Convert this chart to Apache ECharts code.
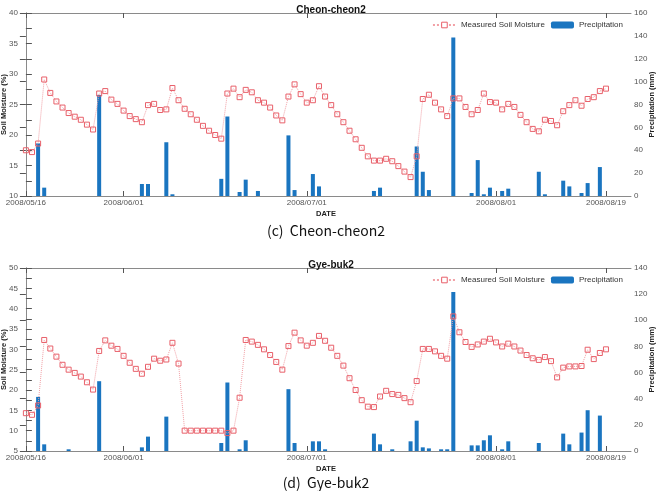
<!DOCTYPE html>
<html>
<head>
<meta charset="utf-8">
<script src="https://cdn.jsdelivr.net/npm/echarts@6/dist/echarts.min.js"></script>
<style>
  html, body { margin: 0; padding: 0; background: #fff; }
  #chart { width: 658px; height: 491px; }
</style>
</head>
<body>
<div id="chart"></div>
<script>
// day 0 = 2008/05/16, one reading per day up to 2008/08/19 (day 95)
const tickDays = [0, 16, 46, 77, 95];
const tickLabels = ['2008/05/16', '2008/06/01', '2008/07/01', '2008/08/01', '2008/08/19'];

const cheonSoil = [
  17.5, 17.2, 18.6, 29.1, 26.9, 25.5, 24.5, 23.6, 23.0, 22.5, 21.7, 20.9,
  26.8, 27.2, 25.8, 25.1, 24.0, 23.1, 22.6, 22.1, 24.9, 25.1, 24.1, 24.2,
  27.7, 25.7, 24.3, 23.4, 22.5, 21.5, 20.7, 20.0, 19.4, 26.8, 27.6, 26.2,
  27.4, 27.0, 25.7, 25.3, 24.5, 23.2, 22.4, 26.3, 28.3, 26.7, 25.3, 25.7,
  28.0, 26.3, 24.9, 23.4, 22.1, 20.7, 19.3, 17.9, 16.5, 15.8, 15.8, 16.1,
  15.7, 14.9, 14.0, 13.1, 16.5, 25.9, 26.6, 25.3, 24.2, 23.1, 26.0, 26.0,
  24.6, 23.4, 24.1, 26.8, 25.4, 25.3, 24.2, 25.1, 24.6, 23.3, 22.1, 21.0,
  20.6, 22.5, 22.3, 21.6, 23.9, 24.9, 25.7, 24.8, 25.9, 26.2, 27.2, 27.6
];
const cheonRainDay = [2, 3, 12, 19, 20, 23, 24, 32, 33, 35, 36, 38, 43, 44, 47, 48,
  57, 58, 64, 65, 66, 70, 73, 74, 75, 76, 78, 79, 84, 85, 88, 89, 91, 92, 94];
const cheonRainMm = [46, 7.3, 88.4, 10.5, 10.5, 47, 1.5, 15, 69.5, 3.5, 14.3, 4.4, 53, 5.2, 19.2, 8.4,
  4.4, 7.3, 43.3, 21.2, 5.2, 138.5, 2.6, 31.4, 1.5, 7.3, 4.4, 6.4, 21.2, 1.5, 13.4, 8.4, 2.6, 11.3, 25.3];

const gyeSoil = [
  14.3, 13.9, 16.2, 32.3, 30.2, 28.2, 26.2, 25.0, 24.2, 23.3, 21.9, 20.1,
  29.6, 32.2, 30.9, 30.1, 28.4, 26.7, 25.2, 24.0, 25.7, 27.7, 27.2, 27.5,
  31.6, 26.5, 10.0, 10.0, 10.0, 10.0, 10.0, 10.0, 10.0, 9.4, 10.0, 18.1,
  32.3, 31.9, 31.1, 30.0, 28.6, 26.9, 25.0, 30.8, 34.1, 32.2, 30.9, 31.6,
  33.3, 32.1, 30.4, 28.4, 26.0, 22.9, 20.0, 17.5, 15.9, 15.8, 18.4, 19.8,
  19.0, 18.8, 18.0, 17.0, 22.2, 30.1, 30.1, 29.5, 28.4, 27.7, 38.1, 34.2,
  31.8, 30.6, 31.2, 31.9, 32.6, 31.7, 30.7, 31.4, 30.7, 29.7, 28.6, 27.8,
  27.4, 28.1, 27.1, 23.1, 25.5, 25.8, 25.8, 25.9, 29.9, 27.6, 29.1, 30.0
];
const gyeRainDay = [2, 3, 7, 12, 19, 20, 23, 32, 33, 35, 36, 43, 44, 47, 48, 49,
  57, 58, 60, 63, 64, 65, 66, 68, 69, 70, 73, 74, 75, 76, 78, 79, 84, 88, 89, 91, 92, 94];
const gyeRainMm = [41.4, 5.1, 1.3, 53.4, 2.8, 11, 26.3, 6.1, 52.4, 1.3, 8.2, 47.3, 6.1, 7.4, 7.4, 1.3,
  13.3, 5.1, 1.3, 7.4, 23.2, 2.8, 2.0, 1.3, 1.3, 121.6, 4.3, 4.3, 8.2, 12.0, 1.3, 7.4, 6.1, 13.3, 5.1, 14.1, 31.2, 27.1];

const panelTitles = ['Cheon-cheon2', 'Gye-buk2'];
const captions = ['(c)  Cheon-cheon2', '(d)  Gye-buk2'];

const chart = echarts.init(document.getElementById('chart'), null, { renderer: 'canvas' });

const font = 'Liberation Sans';
const axisGray = '#8a8a8a';
const tickColor = '#555';
const labelStyle = { fontSize: 8, color: '#555', fontFamily: font };
const nameStyle = { fontSize: 7.5, fontWeight: 'bold', color: '#222', fontFamily: font };
const grids = [
  { left: 21, width: 610, top: 13, height: 183, containLabel: false, outerBoundsMode: 'none' },
  { left: 21, width: 610, top: 268, height: 183, containLabel: false, outerBoundsMode: 'none' }
];
const soilRange = [[10, 40], [5, 50]];
const rainRange = [[0, 160], [0, 140]];

const xAxes = [];
const yAxes = [];
const series = [];
const legends = [];

const pairs = (days, vals) => days.map((d, i) => [d, vals[i]]);
const soilSets = [cheonSoil, gyeSoil];
const rainSets = [pairs(cheonRainDay, cheonRainMm), pairs(gyeRainDay, gyeRainMm)];

grids.forEach((g, gi) => {
  // bottom date axis
  xAxes.push({
    type: 'value', gridIndex: gi, min: -0.8, max: 99.1,
    name: 'DATE', nameLocation: 'middle', nameGap: 14, nameTextStyle: nameStyle,
    nameMoveOverlap: false,
    axisLine: { show: true, lineStyle: { color: axisGray, width: 1 } },
    axisTick: { show: true, inside: true, length: 5, customValues: tickDays, lineStyle: { color: tickColor } },
    axisLabel: {
      ...labelStyle, margin: 3, customValues: tickDays,
      formatter: v => tickLabels[tickDays.indexOf(v)] || ''
    },
    splitLine: { show: false }
  });
  // top border with ticks
  xAxes.push({
    type: 'value', gridIndex: gi, position: 'top', min: -0.8, max: 99.1,
    axisLine: { show: true, lineStyle: { color: axisGray, width: 1 } },
    axisTick: { show: true, inside: true, length: 5, customValues: tickDays, lineStyle: { color: tickColor } },
    axisLabel: { show: false },
    splitLine: { show: false }
  });
  yAxes.push({
    type: 'value', gridIndex: gi, position: 'left',
    min: soilRange[gi][0], max: soilRange[gi][1], interval: 5,
    name: 'Soil Moisture (%)', nameLocation: 'middle', nameRotate: 90, nameGap: 13,
    nameMoveOverlap: false,
    nameTextStyle: nameStyle,
    axisLine: { show: true, lineStyle: { color: axisGray, width: 1 } },
    axisTick: { show: true, inside: true, length: 6, lineStyle: { color: tickColor } },
    minorTick: { show: true, splitNumber: 2, length: 6, lineStyle: { color: tickColor } },
    axisLabel: { ...labelStyle, margin: 3 },
    splitLine: { show: false }
  });
  yAxes.push({
    type: 'value', gridIndex: gi, position: 'right',
    min: rainRange[gi][0], max: rainRange[gi][1], interval: 20,
    name: 'Precipitation (mm)', nameLocation: 'middle', nameRotate: 90, nameGap: 17,
    nameMoveOverlap: false,
    nameTextStyle: nameStyle,
    axisLine: { show: true, lineStyle: { color: axisGray, width: 1 } },
    axisTick: { show: true, inside: true, length: 6, lineStyle: { color: tickColor } },
    minorTick: { show: false },
    axisLabel: { ...labelStyle, margin: 3 },
    splitLine: { show: false }
  });

  series.push({
    name: 'Precipitation', type: 'bar',
    xAxisIndex: gi * 2, yAxisIndex: gi * 2 + 1,
    data: rainSets[gi], barWidth: 4,
    itemStyle: { color: '#1a75c0' },
    animation: false
  });
  series.push({
    name: 'Measured Soil Moisture', type: 'line',
    xAxisIndex: gi * 2, yAxisIndex: gi * 2,
    data: soilSets[gi].map((v, d) => [d, v]),
    symbol: 'rect', symbolSize: 5,
    itemStyle: { color: 'rgba(255,255,255,0)', borderColor: '#e8606a', borderWidth: 1 },
    lineStyle: { color: '#f2a0a6', width: 1, type: 'dotted' },
    animation: false
  });

  legends.push({
    top: g.top + 3, right: 30,
    itemWidth: 23, itemHeight: 7, itemGap: 6,
    textStyle: { fontSize: 8, color: '#333', fontFamily: font },
    data: [
      { name: 'Measured Soil Moisture', itemStyle: { color: '#fff', borderColor: '#e8606a', borderWidth: 1 } },
      'Precipitation'
    ]
  });
});

chart.setOption({
  backgroundColor: '#fff',
  animation: false,
  title: [
    { text: panelTitles[0], left: 326, textAlign: 'center', top: 0,
      textStyle: { fontSize: 10, fontWeight: 'bold', color: '#111', fontFamily: font } },
    { text: panelTitles[1], left: 326, textAlign: 'center', top: 255,
      textStyle: { fontSize: 10, fontWeight: 'bold', color: '#111', fontFamily: font } },
    { text: captions[0], left: 321, textAlign: 'center', top: 219,
      textStyle: { fontSize: 14, fontWeight: 'normal', color: '#111', fontFamily: 'Noto Sans CJK KR' } },
    { text: captions[1], left: 321, textAlign: 'center', top: 471,
      textStyle: { fontSize: 14, fontWeight: 'normal', color: '#111', fontFamily: 'Noto Sans CJK KR' } }
  ],
  legend: legends,
  grid: grids,
  xAxis: xAxes,
  yAxis: yAxes,
  series: series
});
</script>
</body>
</html>
